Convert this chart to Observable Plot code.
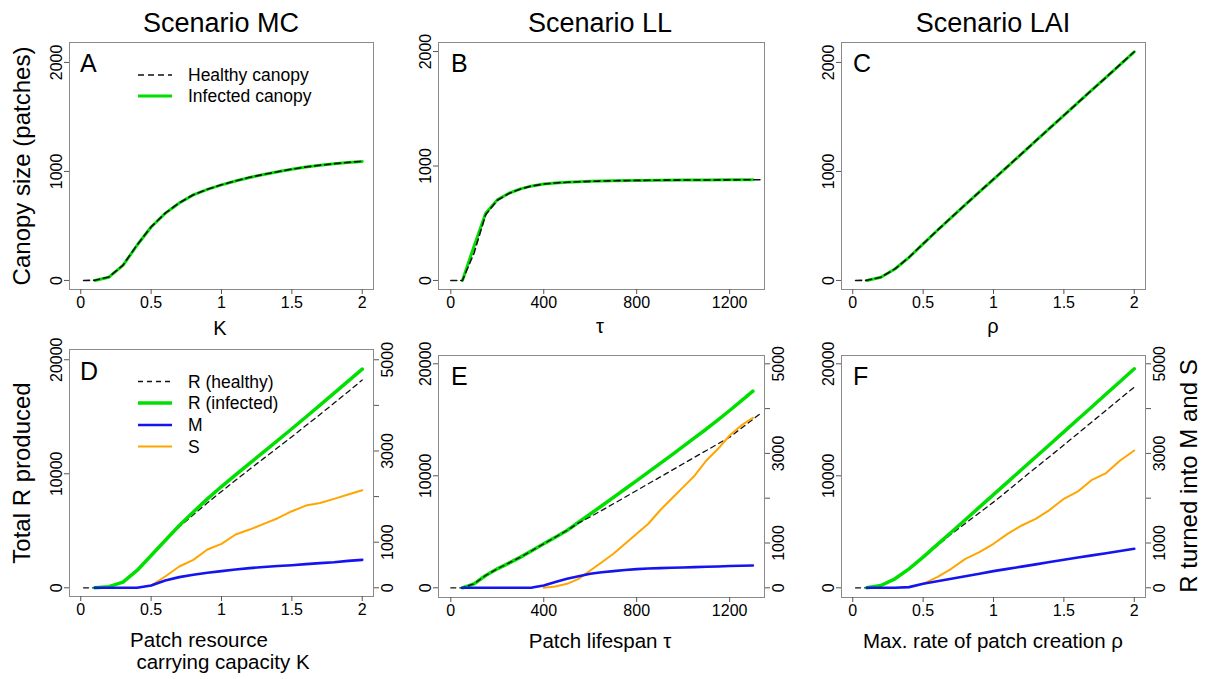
<!DOCTYPE html>
<html><head><meta charset="utf-8">
<script src="https://cdn.jsdelivr.net/npm/d3@7"></script>
<script src="https://cdn.jsdelivr.net/npm/@observablehq/plot@0.6"></script>
<style>
body{margin:0;background:#fff;}
#root{position:relative;width:1209px;height:679px;overflow:hidden;background:#fff;font-family:"Liberation Sans",Arial,Helvetica,sans-serif;}
.panel{position:absolute;}
#overlay{position:absolute;left:0;top:0;}
</style></head><body><div id="root"></div>
<script>
// ---------------- DATA ----------------
// Panel A (Scenario MC, canopy size vs K)
const kHealthyA = [0.02,0.1,0.2,0.3,0.4,0.5,0.6,0.7,0.8,0.9,1.0,1.1,1.2,1.3,1.4,1.5,1.6,1.7,1.8,1.9,2.0];
const canopyHealthyA = [0,2,32,140,326,492,617,712,786,836,878,913,946,973,998,1021,1041,1057,1071,1083,1093];
const kInfectedA = [0.1,0.2,0.3,0.4,0.5,0.6,0.7,0.8,0.9,1.0,1.1,1.2,1.3,1.4,1.5,1.6,1.7,1.8,1.9,2.0];
const canopyInfectedA = [0,30,138,323,490,615,710,785,835,877,912,945,972,997,1020,1040,1057,1070,1082,1092];

// Panel B (Scenario LL, canopy size vs tau)
const tauHealthyB = [0,50,100,150,200,250,300,350,400,450,500,600,700,800,900,1000,1100,1200,1300,1340];
const canopyHealthyB = [0,0,240,575,700,760,800,826,842,852,858,866,871,874,876,877,878,879,880,880];
const tauInfectedB = [50,100,150,200,250,300,350,400,450,500,600,700,800,900,1000,1100,1200,1300];
const canopyInfectedB = [0,300,587,704,762,800,826,842,852,858,866,871,874,876,877,878,879,880];

// Panel C (Scenario LAI, canopy size vs rho)
const rhoHealthyC = [0.02,0.1,0.2,0.3,0.4,0.5,0.6,0.7,0.8,0.9,1.0,1.1,1.2,1.3,1.4,1.5,1.6,1.7,1.8,1.9,2.0];
const canopyHealthyC = [0,1,30,106,213,336,459,578,696,813,929,1046,1163,1280,1397,1514,1631,1748,1864,1981,2098];
const rhoInfectedC = [0.1,0.2,0.3,0.4,0.5,0.6,0.7,0.8,0.9,1.0,1.1,1.2,1.3,1.4,1.5,1.6,1.7,1.8,1.9,2.0];
const canopyInfectedC = [0,30,105,212,335,458,577,695,812,928,1045,1162,1280,1397,1514,1631,1748,1864,1981,2098];

// Panel D (Scenario MC, totals vs K)
const kD = [0.1,0.2,0.3,0.4,0.5,0.6,0.7,0.8,0.9,1.0,1.1,1.2,1.3,1.4,1.5,1.6,1.7,1.8,1.9,2.0];
const kHealthyD = [0.02,0.1,0.2,0.3,0.4,0.5,0.6,0.7,0.8,0.9,1.0,1.1,1.2,1.3,1.4,1.5,1.6,1.7,1.8,1.9,2.0];
const rHealthyD = [0,0,100,480,1500,2800,4100,5350,6400,7450,8450,9430,10400,11350,12300,13250,14230,15200,16200,17200,18220];
const rInfectedD = [0,100,500,1520,2830,4150,5460,6650,7800,8880,9900,10910,11920,12930,13950,14980,16020,17070,18120,19180];
const mD = [0,0,0,0,50,160,234,285,329,365,400,431,455,477,496,520,540,560,590,613];
const kSD = [0.5,0.6,0.7,0.8,0.9,1.0,1.1,1.2,1.3,1.4,1.5,1.6,1.7,1.8,1.9,2.0];
const sD = [50,248,467,613,840,964,1168,1277,1401,1526,1679,1803,1861,1949,2044,2139];

// Panel E (Scenario LL, totals vs tau)
const tauE = [50,100,150,200,250,300,350,400,450,500,550,600,650,700,750,800,850,900,950,1000,1050,1100,1150,1200,1250,1300];
const rInfectedE = [0,357,1100,1696,2200,2738,3330,3929,4510,5119,5850,6590,7330,8075,8820,9570,10325,11085,11850,12620,13400,14180,15000,15830,16690,17560];
const tauHealthyE = [0,50,100,150,200,300,400,500,550,600,700,800,900,1000,1100,1200,1340];
const rHealthyE = [0,0,357,1100,1696,2738,3929,5119,5800,6330,7500,8690,9881,11071,12262,13452,15684];
const mE = [0,0,0,0,0,0,5,52,130,201,260,313,348,372,396,417,430,440,447,454,462,470,477,485,492,499];
const tauSE = [400,450,500,550,600,650,700,750,800,850,900,950,1000,1050,1100,1150,1200,1250,1300];
const sE = [0,30,89,200,387,570,759,982,1205,1429,1726,1987,2247,2507,2842,3103,3400,3624,3795];

// Panel F (Scenario LAI, totals vs rho)
const rhoF = [0.1,0.2,0.3,0.4,0.5,0.6,0.7,0.8,0.9,1.0,1.1,1.2,1.3,1.4,1.5,1.6,1.7,1.8,1.9,2.0];
const rhoHealthyF = [0.02,0.1,0.2,0.3,0.4,0.5,0.6,0.7,0.8,0.9,1.0,1.1,1.2,1.3,1.4,1.5,1.6,1.7,1.8,1.9,2.0];
const rHealthyF = [0,0,200,790,1680,2700,3750,4800,5750,6700,7649,8660,9700,10720,11730,12750,13780,14820,15850,16880,17917];
const rInfectedF = [0,208,804,1696,2738,3850,4960,6080,7200,8320,9440,10560,11680,12800,13920,15050,16170,17300,18420,19554];
const mF = [0,0,0,15,89,145,200,257,315,372,422,472,523,574,625,675,724,773,822,871];
const rhoSF = [0.5,0.6,0.7,0.8,0.9,1.0,1.1,1.2,1.3,1.4,1.5,1.6,1.7,1.8,1.9,2.0];
const sF = [89,238,424,647,796,982,1205,1391,1540,1741,1987,2150,2411,2560,2842,3065];

// Tick values / labels
const xTicksUnit = [0,0.5,1,1.5,2];
const xTicksTau = [0,400,800,1200];
const yTicksCanopy = [0,1000,2000];
const yTicksTotal = [0,10000,20000];
const rightTickValues = [0,1000,2000,3000,4000,5000];
const rightTickLabels = ["0","1000","","3000","","5000"];
const RIGHT_FACTOR = 4; // right axis = left axis / 4

// Titles and labels
const scenarioTitles = ["Scenario MC","Scenario LL","Scenario LAI"];
const panelLetters = ["A","B","C","D","E","F"];
const legendTop = ["Healthy canopy","Infected canopy"];
const legendBottom = ["R (healthy)","R (infected)","M","S"];

// ---------------- DRAW ----------------
const FONT = '"Liberation Sans", Arial, Helvetica, sans-serif';
const GREEN = "#00e000", BLUE = "#1414ee", ORANGE = "#ffa500", DASH = "#111";
const root = document.getElementById("root");
const pts = (xs, ys, f = 1) => xs.map((x, i) => ({x, y: ys[i] * f}));

function panel(o) {
  const marks = [
    Plot.frame({stroke: "#8a8a8a", strokeWidth: 1}),
    Plot.axisX({ticks: o.xTicks, tickSize: 5, tickPadding: 2, tickFormat: d => String(d), label: null, stroke: "#555", fill: "#000"}),
    Plot.axisY({ticks: o.yTicks, tickSize: 5, tickRotate: -90, tickPadding: 3, tickFormat: d => String(d), label: null, stroke: "#555", fill: "#000"})
  ];
  if (o.right) {
    marks.push(Plot.axisY({anchor: "right", ticks: rightTickValues.map(v => v * RIGHT_FACTOR), tickSize: 5, tickRotate: -90, lineAnchor: "top", tickPadding: 3,
      tickFormat: d => rightTickLabels[rightTickValues.indexOf(d / RIGHT_FACTOR)], label: null, stroke: "#555", fill: "#000"}));
  }
  const svg = Plot.plot({
    width: o.width, height: o.height,
    marginLeft: o.mL, marginRight: o.mR, marginTop: o.mT, marginBottom: o.mB,
    style: {fontFamily: FONT, fontSize: "16px", background: "transparent", overflow: "visible", color: "#000"},
    x: {domain: o.xDomain}, y: {domain: o.yDomain},
    marks: [...marks, ...o.marks]
  });
  const div = document.createElement("div");
  div.className = "panel";
  div.style.left = o.left + "px"; div.style.top = o.top + "px";
  div.appendChild(svg);
  root.appendChild(div);
}

const lineOpts = (stroke, w, extra = {}) => ({x: "x", y: "y", stroke, strokeWidth: w, ...extra});

// Panel A
panel({left: 0, top: 0, width: 400, height: 330, mL: 69, mR: 27, mT: 42, mB: 41,
  xDomain: [-0.08, 2.08], yDomain: [-83, 2183], xTicks: xTicksUnit, yTicks: yTicksCanopy,
  marks: [
    Plot.line(pts(kInfectedA, canopyInfectedA), lineOpts(GREEN, 3)),
    Plot.line(pts(kHealthyA, canopyHealthyA), lineOpts(DASH, 1.6, {strokeDasharray: "6,4"}))
  ]});
// Panel B
panel({left: 400, top: 0, width: 400, height: 330, mL: 38, mR: 36, mT: 42, mB: 41,
  xDomain: [-53, 1350], yDomain: [-79, 2079], xTicks: xTicksTau, yTicks: yTicksCanopy,
  marks: [
    Plot.line(pts(tauInfectedB, canopyInfectedB), lineOpts(GREEN, 3)),
    Plot.line(pts(tauHealthyB, canopyHealthyB), lineOpts(DASH, 1.6, {strokeDasharray: "6,4"}))
  ]});
// Panel C
panel({left: 800, top: 0, width: 409, height: 330, mL: 41, mR: 64, mT: 42, mB: 41,
  xDomain: [-0.08, 2.08], yDomain: [-83, 2183], xTicks: xTicksUnit, yTicks: yTicksCanopy,
  marks: [
    Plot.line(pts(rhoInfectedC, canopyInfectedC), lineOpts(GREEN, 3)),
    Plot.line(pts(rhoHealthyC, canopyHealthyC), lineOpts(DASH, 1.6, {strokeDasharray: "6,4"}))
  ]});
// Panel D
panel({left: 0, top: 330, width: 400, height: 349, mL: 69, mR: 27, mT: 19, mB: 83, right: true,
  xDomain: [-0.08, 2.08], yDomain: [-763, 20900], xTicks: xTicksUnit, yTicks: yTicksTotal,
  marks: [
    Plot.line(pts(kHealthyD, rHealthyD), lineOpts(DASH, 1.3, {strokeDasharray: "5,4"})),
    Plot.line(pts(kD, rInfectedD), lineOpts(GREEN, 3.5)),
    Plot.line(pts(kSD, sD, RIGHT_FACTOR), lineOpts(ORANGE, 2)),
    Plot.line(pts(kD, mD, RIGHT_FACTOR), lineOpts(BLUE, 2.6))
  ]});
// Panel E
panel({left: 400, top: 330, width: 400, height: 349, mL: 38, mR: 36, mT: 25, mB: 82, right: true,
  xDomain: [-53, 1350], yDomain: [-866, 20741], xTicks: xTicksTau, yTicks: yTicksTotal,
  marks: [
    Plot.line(pts(tauE, rInfectedE), lineOpts(GREEN, 3.5)),
    Plot.line(pts(tauHealthyE, rHealthyE), lineOpts(DASH, 1.3, {strokeDasharray: "5,4"})),
    Plot.line(pts(tauSE, sE, RIGHT_FACTOR), lineOpts(ORANGE, 2)),
    Plot.line(pts(tauE, mE, RIGHT_FACTOR), lineOpts(BLUE, 2.6))
  ]});
// Panel F
panel({left: 800, top: 330, width: 409, height: 349, mL: 41, mR: 64, mT: 25, mB: 82, right: true,
  xDomain: [-0.08, 2.08], yDomain: [-866, 20741], xTicks: xTicksUnit, yTicks: yTicksTotal,
  marks: [
    Plot.line(pts(rhoHealthyF, rHealthyF), lineOpts(DASH, 1.3, {strokeDasharray: "5,4"})),
    Plot.line(pts(rhoF, rInfectedF), lineOpts(GREEN, 3.5)),
    Plot.line(pts(rhoSF, sF, RIGHT_FACTOR), lineOpts(ORANGE, 2)),
    Plot.line(pts(rhoF, mF, RIGHT_FACTOR), lineOpts(BLUE, 2.6))
  ]});

// ---------------- OVERLAY TEXT ----------------
const NS = "http://www.w3.org/2000/svg";
const ov = document.createElementNS(NS, "svg");
ov.setAttribute("id", "overlay");
ov.setAttribute("width", 1209); ov.setAttribute("height", 679);
ov.style.fontFamily = FONT;
root.appendChild(ov);
function txt(s, x, y, size, anchor = "middle", rot = 0) {
  const t = document.createElementNS(NS, "text");
  t.textContent = s;
  t.setAttribute("font-size", size);
  t.setAttribute("text-anchor", anchor);
  t.setAttribute("fill", "#000");
  t.setAttribute("transform", `translate(${x},${y})` + (rot ? ` rotate(${rot})` : ""));
  ov.appendChild(t);
}
function seg(x1, x2, y, stroke, w, dash) {
  const l = document.createElementNS(NS, "line");
  l.setAttribute("x1", x1); l.setAttribute("x2", x2);
  l.setAttribute("y1", y); l.setAttribute("y2", y);
  l.setAttribute("stroke", stroke); l.setAttribute("stroke-width", w);
  if (dash) l.setAttribute("stroke-dasharray", dash);
  ov.appendChild(l);
}
// Titles
[221, 600, 993].forEach((x, i) => txt(scenarioTitles[i], x, 32, 27));
// Panel letters
[[80, 72], [451, 72], [853, 72], [80, 380], [451, 385], [853, 385]].forEach(([x, y], i) => txt(panelLetters[i], x, y, 25, "start"));
// Axis titles
txt("Canopy size (patches)", 30, 166, 24, "middle", -90);
txt("Total R produced", 30, 473, 24, "middle", -90);
txt("R turned into M and S", 1197, 476, 24, "middle", -90);
txt("K", 220, 335, 20);
txt("τ", 600, 333, 20);
txt("ρ", 993, 333, 20);
txt("Patch resource", 199, 647, 20.5);
txt("carrying capacity K", 223, 669, 20.5);
txt("Patch lifespan τ", 600, 648, 20.5);
txt("Max. rate of patch creation ρ", 993, 648, 20.5);
// Legend A
seg(138, 172, 75, DASH, 1.6, "6,4");
seg(138, 172, 96, GREEN, 3);
txt(legendTop[0], 188, 81, 17.5, "start");
txt(legendTop[1], 188, 102, 17.5, "start");
// Legend D
const legStyles = [[DASH, 1.3, "5,4"], [GREEN, 3.5], [BLUE, 2.6], [ORANGE, 2]];
[381.5, 403, 425, 446.5].forEach((y, i) => {
  seg(138, 172, y, legStyles[i][0], legStyles[i][1], legStyles[i][2]);
  txt(legendBottom[i], 188, y + 6, 17.5, "start");
});
</script></body></html>
